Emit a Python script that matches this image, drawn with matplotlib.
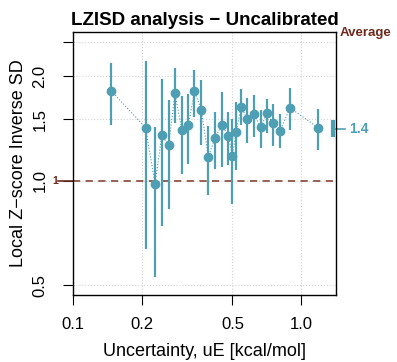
import numpy as np
import matplotlib
matplotlib.use('Agg')
import matplotlib.pyplot as plt
import matplotlib.ticker as ticker

plt.rcParams['font.family'] = ['Liberation Sans', 'DejaVu Sans']

# binned uncertainty (kcal/mol) and local z-score inverse SD with its interval
u_bin = [0.147, 0.208, 0.229, 0.245, 0.263, 0.280, 0.300, 0.321, 0.341, 0.365,
         0.392, 0.420, 0.449, 0.480, 0.500, 0.519, 0.546, 0.581, 0.622, 0.666,
         0.707, 0.756, 0.809, 0.895, 1.191]
lzisd = [1.814, 1.421, 0.977, 1.350, 1.265, 1.789, 1.397, 1.449, 1.807, 1.600,
         1.171, 1.328, 1.445, 1.346, 1.179, 1.382, 1.631, 1.503, 1.554, 1.423,
         1.561, 1.461, 1.391, 1.620, 1.419]
ci_low = [1.448, 0.636, 0.527, 0.741, 0.828, 1.461, 1.044, 1.118, 1.527, 1.263,
          0.908, 1.077, 1.096, 1.108, 0.854, 1.072, 1.445, 1.280, 1.337, 1.243,
          1.367, 1.260, 1.238, 1.397, 1.224]
ci_up = [2.176, 2.205, 1.428, 1.958, 1.705, 2.113, 1.757, 1.771, 2.081, 1.948,
         1.435, 1.572, 1.795, 1.578, 1.500, 1.686, 1.831, 1.725, 1.763, 1.596,
         1.717, 1.658, 1.551, 1.843, 1.606]

# overall average and its interval
avg = 1.41
avg_low = 1.337
avg_up = 1.493

x_ticks = [0.1, 0.2, 0.5, 1.0]
y_ticks = [0.5, 1.0, 1.5, 2.0, 2.5]
y_labels = ['0.5', '1.0', '1.5', '2.0', '']

teal = '#4F9FB4'
brown = '#8E5548'
dark_brown = '#6E2A1E'

fig = plt.figure(figsize=(3.97, 3.62), dpi=100)
ax = fig.add_axes([0.1839, 0.1851, 0.6625, 0.7265])
ax.set_xscale('log')
ax.set_yscale('log')
ax.set_xlim(0.1, 1.424)
ax.set_ylim(0.468, 2.68)

for v in x_ticks:
    ax.axvline(v, color='#D3D3D3', lw=0.8, ls=':', zorder=0)
for v in y_ticks:
    ax.axhline(v, color='#D3D3D3', lw=0.8, ls=':', zorder=0)

ax.axhline(1.0, color=brown, lw=1.3, ls=(0, (4, 3)), zorder=1)

ax.plot(u_bin, lzisd, color=teal, lw=0.8, ls=':', zorder=2)
ax.vlines(u_bin, ci_low, ci_up, color=teal, lw=1.6, zorder=3)
ax.plot(u_bin, lzisd, 'o', color=teal, ms=6, zorder=4)

# average marker on the right border
trans = ax.get_yaxis_transform()
ax.plot([0.99, 0.99], [avg_low, avg_up], color=teal, lw=3, transform=trans,
        clip_on=False, solid_capstyle='butt')
ax.plot([1.0, 1.035], [avg, avg], color=teal, lw=1.2, transform=trans, clip_on=False)
ax.text(1.05, avg, '1.4', color=teal, fontsize=10, fontweight='bold',
        transform=trans, va='center', ha='left')
ax.text(1.015, 0.995, 'Average', color=dark_brown, fontsize=9.5, fontweight='bold',
        transform=ax.transAxes, va='center', ha='left')

# reference mark on the left
ax.plot([-0.057, 0.0], [1.0, 1.0], color=dark_brown, lw=1.2, transform=trans, clip_on=False)
ax.text(-0.058, 1.0, '1', color=dark_brown, fontsize=7.5, fontweight='bold',
        transform=trans, va='center', ha='right')

ax.xaxis.set_major_locator(ticker.FixedLocator(x_ticks))
ax.xaxis.set_major_formatter(ticker.FixedFormatter(['0.1', '0.2', '0.5', '1.0']))
ax.xaxis.set_minor_locator(ticker.NullLocator())
ax.yaxis.set_major_locator(ticker.FixedLocator(y_ticks))
ax.yaxis.set_major_formatter(ticker.FixedFormatter(y_labels))
ax.yaxis.set_minor_locator(ticker.NullLocator())
ax.tick_params(axis='both', direction='out', length=7.5, width=0.8, labelsize=12)
ax.tick_params(axis='x', pad=8)
ax.tick_params(axis='y', pad=11)
for lab in ax.get_yticklabels():
    lab.set_rotation(90)
    lab.set_va('center')

for s in ax.spines.values():
    s.set_linewidth(1.0)

ax.set_xlabel('Uncertainty, uE [kcal/mol]', fontsize=13, labelpad=8)
ax.set_ylabel('Local Z\u2212score Inverse SD', fontsize=13, labelpad=4)
ax.set_title('LZISD analysis \u2212 Uncalibrated', fontsize=13.5, fontweight='bold', pad=5)

fig.savefig('out.png', dpi=100)
